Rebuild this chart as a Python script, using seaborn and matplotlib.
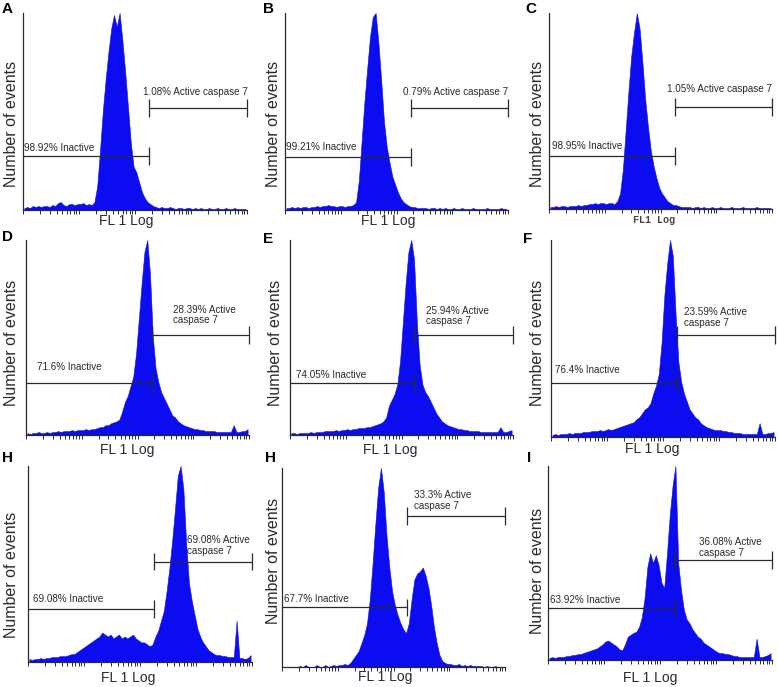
import numpy as np
import pandas as pd
import matplotlib
matplotlib.use("Agg")
import matplotlib.pyplot as plt
import seaborn as sns

W, H = 778, 687

# 80 FL1 channels spread over 4 log decades
n_bins = 80
edges = np.linspace(0, 4, n_bins + 1)
centers = (edges[:-1] + edges[1:]) / 2

panel_letters = ["A", "B", "C", "D", "E", "F", "H", "H", "I"]

# events per channel, % of the panel's highest channel
counts_a = [1, 1.5, 1, 2, 1.5, 2, 1.5, 2, 2, 1.5,
            2.5, 2, 3.5, 4, 2.5, 2, 3, 3, 2.5, 3,
            3, 3.5, 2.5, 3, 2.5, 4, 12, 30, 50, 66,
            80, 92, 99, 93, 100, 86, 70, 52, 34, 22,
            19, 14, 9, 6, 4, 3, 2, 1.5, 1, 1.5,
            1, 1, 1.5, 1, 0.5, 1, 1, 0.5, 1, 1,
            0.5, 1, 0.5, 1, 0.5, 0.5, 1, 0.5, 0.5, 1,
            0.5, 0.5, 1, 0.5, 0.5, 1, 0.5, 0.5, 0.5, 0.5]
counts_b = [1, 1, 1.5, 1, 1.5, 1, 1.5, 1.5, 1, 1.5,
            1.5, 2, 1.5, 2, 2, 2.5, 2, 2, 1.5, 2,
            2, 1.5, 2, 2, 2.5, 4, 15, 35, 55, 72,
            88, 98, 100, 85, 66, 45, 32, 24, 17, 13,
            9, 6, 4, 3, 2, 1.5, 1.5, 1, 1, 1,
            1, 0.5, 1, 1, 0.5, 1, 0.5, 1, 0.5, 0.5,
            1, 0.5, 0.5, 1, 0.5, 0.5, 0.5, 1, 0.5, 0.5,
            0.5, 0.5, 1, 0.5, 0.5, 0.5, 0.5, 1, 0.5, 0.5]
counts_c = [1, 1, 1.5, 1, 1.5, 1.5, 1, 1.5, 1.5, 1.5,
            2, 1.5, 2, 2, 2.5, 2.5, 3, 2.5, 3, 3,
            2.5, 3, 3, 2.5, 4, 8, 20, 40, 60, 78,
            90, 100, 92, 75, 56, 42, 30, 22, 16, 11,
            8, 6, 4, 3, 2, 2, 1.5, 1, 1, 1,
            1, 0.5, 1, 1, 0.5, 1, 0.5, 0.5, 1, 0.5,
            0.5, 1, 0.5, 0.5, 0.5, 1, 0.5, 0.5, 0.5, 1,
            0.5, 0.5, 0.5, 0.5, 1, 0.5, 0.5, 0.5, 0.5, 0.5]
counts_d = [1, 0.5, 1, 1, 1.5, 1, 1, 1.5, 1, 1.5,
            1.5, 2, 1.5, 2, 2, 2, 2.5, 2, 2.5, 2.5,
            2.5, 3, 2.5, 3, 3, 3.5, 4, 4, 5, 5,
            6, 6.5, 7, 8, 12, 17, 20, 25, 30, 42,
            60, 78, 94, 100, 82, 50, 34, 27, 22, 19,
            16, 13, 10, 9, 7, 6, 5, 4.5, 4, 3.5,
            3, 3, 2.5, 2.5, 2, 2, 2, 2, 1.5, 1.5,
            1.5, 1.5, 1.5, 1.5, 5, 1.5, 1.5, 2, 2, 3]
counts_e = [1, 1, 0.5, 1, 1, 1, 1, 1.5, 1, 1.5,
            1.5, 1.5, 2, 2, 2, 2, 2.5, 2, 2.5, 2.5,
            3, 2.5, 3, 3, 3.5, 3.5, 3.5, 4, 4, 4.5,
            5, 5.5, 6, 7, 9, 15, 18, 21, 26, 38,
            58, 78, 94, 100, 90, 58, 36, 26, 22, 20,
            17, 14, 11, 9, 7, 6, 5, 4.5, 4, 3.5,
            3, 3, 2.5, 2.5, 2, 2, 2, 2, 1.5, 1.5,
            1.5, 1.5, 1.5, 1.5, 1.5, 4, 1.5, 1.5, 2, 2.5]
counts_f = [1, 1.5, 1, 1.5, 1.5, 1.5, 2, 1.5, 2, 2,
            2, 2.5, 2.5, 2.5, 3, 3, 3, 3.5, 3, 3.5,
            4, 3.5, 4, 4.5, 5, 5.5, 6, 6.5, 7, 7.5,
            9, 10, 12, 14, 15, 17, 22, 26, 32, 48,
            72, 88, 100, 92, 62, 38, 28, 22, 18, 14,
            12, 10, 9, 7, 6, 5, 4.5, 4, 3.5, 3.5,
            3.5, 3, 3, 2.5, 2.5, 2, 2, 2, 1.5, 1.5,
            1.5, 1.5, 1.5, 1.5, 7, 1.5, 1.5, 2, 2, 2.5]
counts_h1 = [1.5, 1, 1.5, 1.5, 2, 1.5, 2, 2, 2.5, 2.5,
             2.5, 3, 3, 3, 3.5, 4, 4, 5, 6, 7,
             8, 9, 10, 11, 12, 13, 15, 14, 13, 14,
             12, 13, 14, 12, 13, 12, 13, 14, 12, 11,
             10, 10, 9, 8, 9, 13, 16, 21, 26, 36,
             48, 62, 78, 95, 100, 88, 60, 40, 31, 24,
             17, 13, 10, 8, 6, 5, 4, 3.5, 3.5, 3,
             3, 2.5, 2.5, 2.5, 21, 2, 2, 1.5, 2, 3.5]
counts_h2 = [0, 0, 0, 0, 0, 0, 0.5, 0, 1, 0,
             0, 0, 1, 0, 0, 1, 0, 0.5, 1, 0.5,
             1, 1, 1.5, 1, 2, 4, 6, 8, 12, 16,
             22, 34, 52, 72, 90, 100, 88, 66, 50, 38,
             31, 26, 22, 19, 17, 22, 34, 44, 47, 48,
             50, 46, 40, 31, 20, 12, 6, 3, 2, 1.5,
             1.5, 1, 1, 1.5, 0.5, 1, 0.5, 1, 0.5, 0.5,
             0.5, 0.5, 0, 0.5, 0, 0, 0.5, 0, 0, 0]
counts_i = [1, 1.5, 1, 1.5, 1.5, 1.5, 2, 2, 2.5, 2.5,
            3, 3, 3.5, 4, 4.5, 5, 5.5, 6, 7, 8,
            9.5, 10, 9, 8, 7, 5.5, 5, 8, 12, 13,
            14, 14.5, 17, 22, 32, 48, 55, 50, 54, 49,
            40, 37, 55, 75, 90, 100, 50, 36, 26, 21,
            19, 16, 14, 12, 11, 9, 8, 7, 6, 5,
            4, 3.5, 3.5, 3, 3, 2.5, 2, 2, 1.5, 1.5,
            1.5, 1.5, 1.5, 1.5, 11, 1.5, 1.5, 2, 2.5, 3.5]
all_counts = [counts_a, counts_b, counts_c, counts_d, counts_e,
              counts_f, counts_h1, counts_h2, counts_i]

inactive_labels = ["98.92% Inactive", "99.21% Inactive", "98.95% Inactive",
                   "71.6% Inactive", "74.05% Inactive", "76.4% Inactive",
                   "69.08% Inactive", "67.7% Inactive", "63.92% Inactive"]
active_labels = ["1.08% Active caspase 7", "0.79% Active caspase 7",
                 "1.05% Active caspase 7", "28.39% Active\ncaspase 7",
                 "25.94% Active\ncaspase 7", "23.59% Active\ncaspase 7",
                 "69.08% Active\ncaspase 7", "33.3% Active\ncaspase 7",
                 "36.08% Active\ncaspase 7"]

# gate boundary (fraction of the log axis), gate heights in % of max
gate_bound = [0.563, 0.567, 0.566, 0.566, 0.56, 0.561, 0.564, 0.56, 0.564]
inactive_y = [27.5, 27, 26.9, 26.8, 26.8, 27.5, 27.1, 29.9, 27]
active_y = [51.7, 51.7, 51.9, 51.3, 51.3, 51.7, 51.2, 76, 51.6]

# layout (pixels): axes boxes (left, top, right, bottom)
boxes = [(23, 13, 247, 210), (285, 13, 508, 210), (549, 13, 772, 209),
         (26, 240, 249, 435), (290, 240, 513, 435), (551, 240, 775, 437),
         (28, 466, 252, 662), (282, 468, 505, 667), (548, 466, 772, 660)]
letter_pos = [(2, 2), (263, 2), (525, 2), (2, 230), (263, 232), (523, 232),
              (2, 451), (265, 451), (527, 451)]
ylabel_pos = [(12, 124), (273, 124), (537, 124), (12, 343), (275, 343),
              (538, 343), (12, 575), (273, 561), (538, 571)]
xlabel_pos = [(126, 221), (388, 221), (654, 220), (127, 450), (390, 450),
              (652, 449), (128, 678), (385, 677), (650, 678)]
inact_txt = [(0.005, 31.7), (0.005, 32), (0.012, 32), (0.05, 35), (0.025, 31),
             (0.02, 34), (0.022, 31.9), (0.01, 34), (0.01, 31)]
act_txt = [(0.534, 60), (0.527, 60), (0.528, 61), (0.66, 61.5), (0.612, 61),
           (0.595, 60.7), (0.71, 59.3), (0.594, 83.7), (0.673, 58)]

blue = "#0c0cf0"
ink = "#2a2a2a"

sns.set_theme(style="white")
plt.rcParams["font.family"] = ["Liberation Sans", "DejaVu Sans"]

minor_ticks = [d + np.log10(k) for d in range(4) for k in range(2, 10)]

fig = plt.figure(figsize=(W / 100, H / 100), dpi=100)
fig.patch.set_facecolor("white")


def px(x, y):
    return x / W, 1 - y / H


for i, counts in enumerate(all_counts):
    l, t, r, b = boxes[i]
    ax = fig.add_axes([l / W, 1 - b / H, (r - l) / W, (b - t) / H])
    df = pd.DataFrame({"fl1": centers, "events": counts})
    sns.histplot(data=df, x="fl1", weights="events", bins=n_bins,
                 binrange=(0, 4), element="poly", fill=True, color=blue,
                 alpha=1, linewidth=0.4, ax=ax)
    ax.set_xlim(0, 4)
    ax.set_ylim(0, 100)
    ax.set_xlabel("")
    ax.set_ylabel("")
    ax.set_yticks([])
    ax.set_xticks(range(5))
    ax.set_xticks(minor_ticks, minor=True)
    ax.tick_params(axis="x", which="both", direction="out", length=3,
                   width=0.7, color=ink, labelbottom=False, bottom=True)
    sns.despine(ax=ax)
    for side in ["left", "bottom"]:
        ax.spines[side].set_color(ink)
        ax.spines[side].set_linewidth(0.9)

    # gates
    xb = gate_bound[i] * 4
    cap = 4.5
    ax.hlines(inactive_y[i], 0, xb, color=ink, lw=0.9, zorder=5)
    ax.vlines(xb, inactive_y[i] - cap, inactive_y[i] + cap, color=ink,
              lw=0.9, zorder=5)
    ax.hlines(active_y[i], xb, 4, color=ink, lw=0.9, zorder=5, clip_on=False)
    ax.vlines([xb, 4], active_y[i] - cap, active_y[i] + cap, color=ink,
              lw=0.9, zorder=5, clip_on=False)
    ax.text(inact_txt[i][0] * 4, inact_txt[i][1], inactive_labels[i],
            fontsize=7.1, color=ink, va="center", ha="left", zorder=6)
    ax.text(act_txt[i][0] * 4, act_txt[i][1], active_labels[i],
            fontsize=7.1, color=ink, va="center", ha="left", zorder=6,
            linespacing=1.1)

    fig.text(*px(*letter_pos[i]), panel_letters[i], fontsize=11,
             fontweight="bold", color="black", ha="left", va="top")
    fig.text(*px(*ylabel_pos[i]), "Number of events", fontsize=11.5,
             color=ink, rotation=90, ha="center", va="center")
    if i == 2:
        fig.text(*px(*xlabel_pos[i]), "FL1 Log", fontsize=7.2,
                 family="Liberation Mono", fontweight="bold", color="#444444",
                 ha="center", va="center")
    else:
        fig.text(*px(*xlabel_pos[i]), "FL 1 Log", fontsize=10, color=ink,
                 ha="center", va="center")

fig.savefig("out.png", dpi=100, facecolor="white")
